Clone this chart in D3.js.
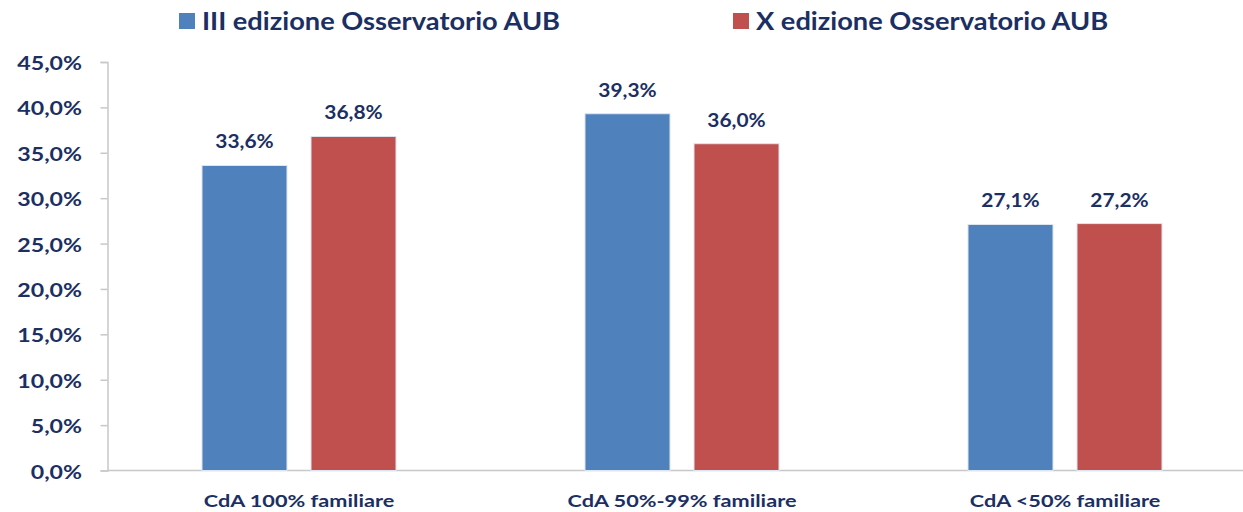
<!DOCTYPE html>
<html>
<head>
<meta charset="utf-8">
<script src="https://cdn.jsdelivr.net/npm/d3@7"></script>
<style>
  body { margin: 0; background: #fff; }
  text { font-family: Lato, "Open Sans", sans-serif; font-weight: bold; fill: #1b2f63; }
</style>
</head>
<body>
<script>
// categories and the two survey editions
const categories = ["CdA 100% familiare", "CdA 50%-99% familiare", "CdA <50% familiare"];
const seriesNames = ["III edizione Osservatorio AUB", "X edizione Osservatorio AUB"];
const terza = [33.6, 39.3, 27.1];
const decima = [36.8, 36.0, 27.2];
const yTicks = [0, 5, 10, 15, 20, 25, 30, 35, 40, 45];

const colors = ["#4f81bd", "#c0504d"];
const w = 1243, h = 512;

const svg = d3.select("body").append("svg")
    .attr("width", w)
    .attr("height", h);

const x = d3.scaleBand()
    .domain(categories)
    .range([107.5, 1256.5]);

// 2 bars of 85px with a 24px gap, centred in each band
const inner = d3.scaleBand()
    .domain([0, 1])
    .range([x.bandwidth() / 2 - 97, x.bandwidth() / 2 + 97])
    .paddingInner(24 / 109);

const y = d3.scaleLinear()
    .domain([0, 45])
    .range([470.5, 62]);

const fmt = v => d3.format(".1f")(v).replace(".", ",") + "%";

// the original text is a bit wider than Lato, so stretch it horizontally
const stretch = (sel, sx) => sel.attr("transform", function () {
    const t = d3.select(this);
    const tx = +t.attr("x") || 0, ty = +t.attr("y") || 0;
    t.attr("x", 0).attr("y", 0);
    return "translate(" + tx + "," + ty + ") scale(" + sx + ",1)";
});

// y axis
const yAxis = svg.append("g")
    .attr("transform", "translate(107.5,0)")
    .call(d3.axisLeft(y).tickValues(yTicks).tickFormat(fmt).tickSize(7));
yAxis.select(".domain").attr("stroke", "#c8c8c8").attr("stroke-width", 1.5);
yAxis.selectAll(".tick line").attr("stroke", "#c8c8c8").attr("stroke-width", 1.5);
yAxis.selectAll(".tick text")
    .attr("dy", null)
    .attr("x", -25.5)
    .attr("y", 7.5)
    .style("font-size", "19px")
    .attr("fill", "#1b2f63")
    .call(stretch, 1.22);

// baseline
svg.append("line")
    .attr("x1", 107.5).attr("x2", w)
    .attr("y1", y(0)).attr("y2", y(0))
    .attr("stroke", "#c8c8c8").attr("stroke-width", 1.5);

const rows = categories.map((c, i) => ({ cat: c, vals: [terza[i], decima[i]] }));

const groups = svg.append("g").selectAll("g")
    .data(rows)
    .enter()
    .append("g")
    .attr("transform", d => "translate(" + x(d.cat) + ",0)");

groups.selectAll("rect")
    .data(d => d.vals)
    .enter()
    .append("rect")
    .attr("x", (d, i) => inner(i))
    .attr("y", d => y(d))
    .attr("width", inner.bandwidth())
    .attr("height", d => y(0) - y(d))
    .attr("fill", (d, i) => colors[i])
    .attr("stroke", "#dde6f0")
    .attr("stroke-width", 1);

groups.selectAll("text.val")
    .data(d => d.vals)
    .enter()
    .append("text")
    .attr("class", "val")
    .attr("x", (d, i) => inner(i) + inner.bandwidth() / 2)
    .attr("y", d => y(d) - 17)
    .attr("text-anchor", "middle")
    .style("font-size", "19px")
    .text(fmt)
    .call(stretch, 1.1);

// category labels
svg.append("g").selectAll("text")
    .data(categories)
    .enter()
    .append("text")
    .attr("x", d => x(d) + x.bandwidth() / 2)
    .attr("y", 507)
    .attr("text-anchor", "middle")
    .style("font-size", "17.5px")
    .text(d => d)
    .call(stretch, 1.24);

// legend
const legendX = [179, 733];
const legend = svg.append("g").selectAll("g")
    .data(seriesNames)
    .enter()
    .append("g")
    .attr("transform", (d, i) => "translate(" + legendX[i] + ",0)");

legend.append("rect")
    .attr("x", 0).attr("y", 13)
    .attr("width", 16).attr("height", 16)
    .attr("fill", (d, i) => colors[i]);

legend.append("text")
    .attr("x", 23)
    .attr("y", 30)
    .style("font-size", "25px")
    .text(d => d)
    .call(stretch, 1.09);
</script>
</body>
</html>
